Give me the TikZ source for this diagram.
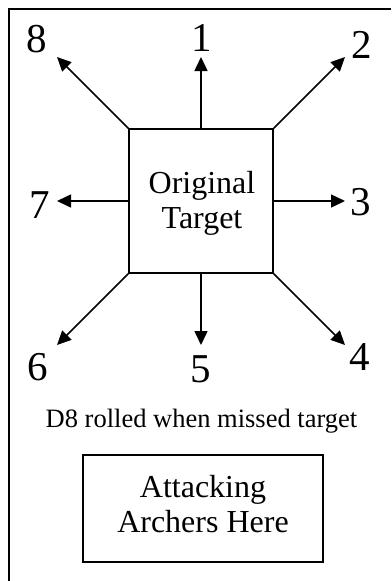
\documentclass[tikz,border=0pt]{standalone}
\usepackage{fontspec}
\setmainfont{Liberation Serif}
\usetikzlibrary{arrows.meta}
\begin{document}
\begin{tikzpicture}[x=1pt,y=-1pt,
  line width=1.5pt,
  dirarrow/.style={-{Triangle[length=14pt,width=13pt]}},
  numlabel/.style={font=\fontsize{41}{41}\selectfont, inner sep=0pt, anchor=base},
  boxtext/.style={font=\fontsize{32}{35}\selectfont, align=center, inner sep=0pt, anchor=base}]
\useasboundingbox (0,0) rectangle (391,581);
\draw (391,9) -- (9,9) -- (9,581);
\node[draw, minimum width=144pt, minimum height=144pt, inner sep=0pt] (target) at (201,201) {};
\node[boxtext] (ttext) at (202,228) {Original\\Target};
\coordinate (e1) at (201,57);
\coordinate (e2) at (345,57);
\coordinate (e3) at (345,201);
\coordinate (e4) at (345,345);
\coordinate (e5) at (201,345);
\coordinate (e6) at (57,345);
\coordinate (e7) at (57,201);
\coordinate (e8) at (57,57);
\draw[dirarrow] (target.north) -- (e1);
\draw[dirarrow] (target.north east) -- (e2);
\draw[dirarrow] (target.east) -- (e3);
\draw[dirarrow] (target.south east) -- (e4);
\draw[dirarrow] (target.south) -- (e5);
\draw[dirarrow] (target.south west) -- (e6);
\draw[dirarrow] (target.west) -- (e7);
\draw[dirarrow] (target.north west) -- (e8);
\node[numlabel] (n1) at (202,51) {1};
\node[numlabel] (n2) at (362,58) {2};
\node[numlabel] (n3) at (361,215) {3};
\node[numlabel] (n4) at (360,370) {4};
\node[numlabel] (n5) at (201,382) {5};
\node[numlabel] (n6) at (38,380) {6};
\node[numlabel] (n7) at (40,218) {7};
\node[numlabel] (n8) at (37,52) {8};
\node[font=\fontsize{26.5}{30}\selectfont, inner sep=0pt, anchor=base] (cap) at (201.5,427) {D8 rolled when missed target};
\node[draw, minimum width=240pt, minimum height=107pt, inner sep=0pt] (arch) at (203,508.5) {};
\node[boxtext] (atext) at (203,532) {Attacking\\Archers Here};
\end{tikzpicture}
\end{document}
